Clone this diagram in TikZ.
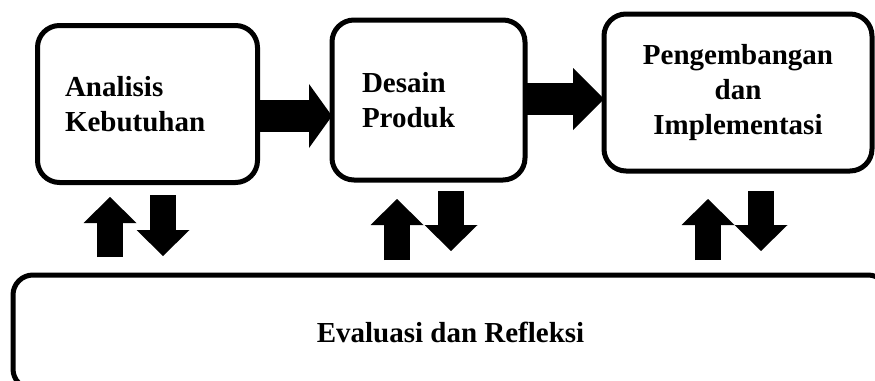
\documentclass[tikz,border=0pt]{standalone}
\usepackage{fontspec}
\setmainfont{Liberation Serif}
\usetikzlibrary{arrows.meta}
\pgfdeclarelayer{edgelayer}
\pgfdeclarelayer{nodelayer}
\pgfsetlayers{edgelayer,nodelayer,main}
\newcommand{\stagefont}{\fontsize{29}{35}\selectfont\bfseries}
\tikzstyle{none}=[inner sep=0pt]
\tikzstyle{stage}=[draw=black, fill=white, line width=5pt, rounded corners=22pt, outer sep=0pt, font=\stagefont]
\tikzstyle{bigflow}=[draw=black, line width=32pt, -{Triangle[length=23pt,width=64pt,line width=0pt]}]
\tikzstyle{feedback}=[draw=black, line width=26pt, -{Triangle[length=26pt,width=53pt,line width=0pt]}]

\begin{document}
\begin{tikzpicture}[x=1pt, y=-1pt]
	\useasboundingbox (0, 0) rectangle (875, 380);
	\begin{pgfonlayer}{nodelayer}
		\node [style=stage, minimum width=220pt, minimum height=157pt, text width=165pt, align=left] (0) at (147.5, 104) {Analisis\\Kebutuhan};
		\node [style=stage, minimum width=193pt, minimum height=160pt, text width=133pt, align=left] (1) at (428.5, 100) {Desain\\Produk};
		\node [style=stage, minimum width=268pt, minimum height=157pt, align=center] (2) at (738, 92.5) {Pengembangan\\dan\\Implementasi};
		\node [style=stage, rounded corners=20pt, minimum width=875pt, minimum height=114pt] (3) at (450.5, 332) {Evaluasi dan Refleksi};
	\end{pgfonlayer}
	\begin{pgfonlayer}{edgelayer}
		\draw [style=bigflow] ([yshift=-12pt]0.east) to ([yshift=-16pt]1.west);
		\draw [style=bigflow, -{Triangle[length=31pt,width=62pt,line width=0pt]}] ([yshift=1pt]1.east) to ([yshift=-6.5pt]2.west);
		\draw [style=feedback, shorten <=18pt, shorten >=14.5pt] ([xshift=-37.5pt]0.south |- 3.north) to ([xshift=-37.5pt]0.south);
		\draw [style=feedback, shorten <=12.5pt, shorten >=19pt] ([xshift=15.5pt]0.south) to ([xshift=15.5pt]0.south |- 3.north);
		\draw [style=feedback, shorten <=15pt, shorten >=19pt] ([xshift=-31.5pt]1.south |- 3.north) to ([xshift=-31.5pt]1.south);
		\draw [style=feedback, shorten <=11pt, shorten >=24pt] ([xshift=22.5pt]1.south) to ([xshift=22.5pt]1.south |- 3.north);
		\draw [style=feedback, shorten <=15pt, shorten >=28pt] ([xshift=-30pt]2.south |- 3.north) to ([xshift=-30pt]2.south);
		\draw [style=feedback, shorten <=20pt, shorten >=24pt] ([xshift=23pt]2.south) to ([xshift=23pt]2.south |- 3.north);
	\end{pgfonlayer}
\end{tikzpicture}
\end{document}
